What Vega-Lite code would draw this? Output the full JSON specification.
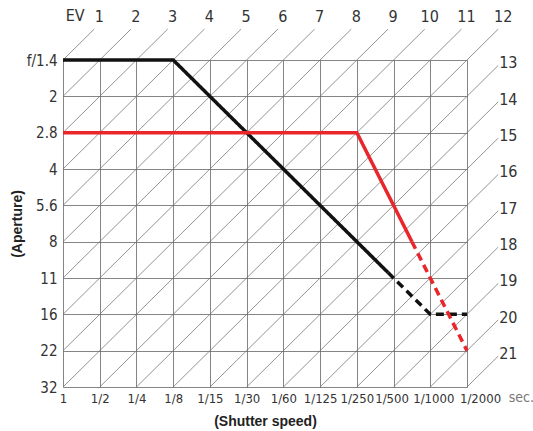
{
  "$schema": "https://vega.github.io/schema/vega-lite/v6.json",
  "width": 404,
  "height": 327,
  "autosize": {"type": "none"},
  "padding": {"left": 63, "top": 60, "right": 66, "bottom": 44},
  "background": "white",
  "config": {
    "view": {"stroke": null},
    "axis": {
      "grid": true,
      "gridColor": "#666666",
      "gridWidth": 0.8,
      "gridOpacity": 1,
      "ticks": false,
      "domain": false,
      "labelFont": "DejaVu Sans Condensed, Roboto, sans-serif",
      "labelFontSize": 15,
      "labelColor": "#333333",
      "labelOverlap": false,
      "labelFlush": false,
      "titleFont": "Liberation Sans, Arial, sans-serif",
      "titleFontWeight": "bold",
      "titleFontSize": 14,
      "titleColor": "#222222"
    },
    "axisX": {"labelFontSize": 13}
  },
  "datasets": {
    "diag": [
      {"x": 0, "y": 0, "x2": 0.85, "y2": -0.85, "k": "1", "side": "top"},
      {"x": 0, "y": 1, "x2": 1.85, "y2": -0.85, "k": "2", "side": "top"},
      {"x": 0, "y": 2, "x2": 2.85, "y2": -0.85, "k": "3", "side": "top"},
      {"x": 0, "y": 3, "x2": 3.85, "y2": -0.85, "k": "4", "side": "top"},
      {"x": 0, "y": 4, "x2": 4.85, "y2": -0.85, "k": "5", "side": "top"},
      {"x": 0, "y": 5, "x2": 5.85, "y2": -0.85, "k": "6", "side": "top"},
      {"x": 0, "y": 6, "x2": 6.85, "y2": -0.85, "k": "7", "side": "top"},
      {"x": 0, "y": 7, "x2": 7.85, "y2": -0.85, "k": "8", "side": "top"},
      {"x": 0, "y": 8, "x2": 8.85, "y2": -0.85, "k": "9", "side": "top"},
      {"x": 0, "y": 9, "x2": 9.85, "y2": -0.85, "k": "10", "side": "top"},
      {"x": 1, "y": 9, "x2": 10.85, "y2": -0.85, "k": "11", "side": "top"},
      {"x": 2, "y": 9, "x2": 11.85, "y2": -0.85, "k": "12", "side": "top"},
      {"x": 3, "y": 9, "x2": 11.85, "y2": 0.15, "k": "13", "side": "right"},
      {"x": 4, "y": 9, "x2": 11.85, "y2": 1.15, "k": "14", "side": "right"},
      {"x": 5, "y": 9, "x2": 11.85, "y2": 2.15, "k": "15", "side": "right"},
      {"x": 6, "y": 9, "x2": 11.85, "y2": 3.15, "k": "16", "side": "right"},
      {"x": 7, "y": 9, "x2": 11.85, "y2": 4.15, "k": "17", "side": "right"},
      {"x": 8, "y": 9, "x2": 11.85, "y2": 5.15, "k": "18", "side": "right"},
      {"x": 9, "y": 9, "x2": 11.85, "y2": 6.15, "k": "19", "side": "right"},
      {"x": 10, "y": 9, "x2": 11.85, "y2": 7.15, "k": "20", "side": "right"},
      {"x": 11, "y": 9, "x2": 11.85, "y2": 8.15, "k": "21", "side": "right"}
    ],
    "prog": [
      {"s": "black", "st": "solid", "i": 0, "x": 0, "y": 0},
      {"s": "black", "st": "solid", "i": 1, "x": 3, "y": 0},
      {"s": "black", "st": "solid", "i": 2, "x": 8.85, "y": 5.85},
      {"s": "black", "st": "dashed", "i": 3, "x": 8.85, "y": 5.85},
      {"s": "black", "st": "dashed", "i": 4, "x": 10, "y": 7},
      {"s": "black", "st": "dashed", "i": 5, "x": 11, "y": 7},
      {"s": "red", "st": "solid", "i": 0, "x": 0, "y": 2},
      {"s": "red", "st": "solid", "i": 1, "x": 8, "y": 2},
      {"s": "red", "st": "solid", "i": 2, "x": 9.5, "y": 5},
      {"s": "red", "st": "dashed", "i": 3, "x": 9.5, "y": 5},
      {"s": "red", "st": "dashed", "i": 4, "x": 11, "y": 8}
    ]
  },
  "encoding": {
    "x": {
      "field": "x", "type": "quantitative", "title": "(Shutter speed)",
      "scale": {"domain": [0, 11], "nice": false, "zero": false},
      "axis": {
        "values": [0, 1, 2, 3, 4, 5, 6, 7, 8, 9, 10, 11],
        "labelExpr": "['1','1/2','1/4','1/8','1/15','1/30','1/60','1/125','1/250','1/500','1/1000','1/2000'][datum.value]",
        "labelPadding": 5,
        "titlePadding": 9,
        "labelOffset": {"condition": [{"test": "datum.value == 11", "value": 13}, {"test": "datum.value == 10", "value": 3}, {"test": "datum.value == 9", "value": -2}], "value": 0}
      }
    },
    "y": {
      "field": "y", "type": "quantitative", "title": "(Aperture)",
      "scale": {"domain": [0, 9], "nice": false, "zero": false, "reverse": true},
      "axis": {
        "values": [0, 1, 2, 3, 4, 5, 6, 7, 8, 9],
        "labelExpr": "['f/1.4','2','2.8','4','5.6','8','11','16','22','32'][datum.value]",
        "labelPadding": 6,
        "titlePadding": 2
      }
    }
  },
  "layer": [
    {
      "data": {"name": "diag"},
      "mark": {"type": "rule", "color": "#777777", "strokeWidth": 0.8, "clip": false},
      "encoding": {
        "x2": {"field": "x2"},
        "y2": {"field": "y2"}
      }
    },
    {
      "data": {"name": "prog"},
      "mark": {"type": "line", "strokeWidth": 3.5, "clip": false, "strokeJoin": "miter"},
      "encoding": {
        "color": {"field": "s", "type": "nominal", "scale": {"domain": ["black", "red"], "range": ["#111111", "#e8262c"]}, "legend": null},
        "strokeDash": {"field": "st", "type": "nominal", "scale": {"domain": ["solid", "dashed"], "range": [[1, 0], [8, 5]]}, "legend": null},
        "order": {"field": "i", "type": "quantitative"}
      }
    },
    {
      "data": {"name": "diag"},
      "transform": [{"filter": "datum.side == 'top'"}],
      "mark": {"type": "text", "font": "DejaVu Sans Condensed, Roboto, sans-serif", "fontSize": 16, "color": "#333333", "align": "center", "baseline": "middle", "dx": 5, "dy": -12, "clip": false},
      "encoding": {
        "x": {
          "field": "x2", "type": "quantitative", "title": "(Shutter speed)",
          "scale": {"domain": [0, 11], "nice": false, "zero": false},
          "axis": {
            "values": [0, 1, 2, 3, 4, 5, 6, 7, 8, 9, 10, 11],
            "labelExpr": "['1','1/2','1/4','1/8','1/15','1/30','1/60','1/125','1/250','1/500','1/1000','1/2000'][datum.value]",
            "labelPadding": 5,
            "titlePadding": 9,
            "labelOffset": {"condition": [{"test": "datum.value == 11", "value": 13}, {"test": "datum.value == 10", "value": 3}, {"test": "datum.value == 9", "value": -2}], "value": 0}
          }
        },
        "y": {
          "field": "y2", "type": "quantitative", "title": "(Aperture)",
          "scale": {"domain": [0, 9], "nice": false, "zero": false, "reverse": true},
          "axis": {
            "values": [0, 1, 2, 3, 4, 5, 6, 7, 8, 9],
            "labelExpr": "['f/1.4','2','2.8','4','5.6','8','11','16','22','32'][datum.value]",
            "labelPadding": 6,
            "titlePadding": 2
          }
        },
        "text": {"field": "k"}
      }
    },
    {
      "data": {"name": "diag"},
      "transform": [{"filter": "datum.side == 'right'"}],
      "mark": {"type": "text", "font": "DejaVu Sans Condensed, Roboto, sans-serif", "fontSize": 16, "color": "#333333", "align": "left", "baseline": "middle", "dx": 1, "dy": -2, "clip": false},
      "encoding": {
        "x": {
          "field": "x2", "type": "quantitative", "title": "(Shutter speed)",
          "scale": {"domain": [0, 11], "nice": false, "zero": false},
          "axis": {
            "values": [0, 1, 2, 3, 4, 5, 6, 7, 8, 9, 10, 11],
            "labelExpr": "['1','1/2','1/4','1/8','1/15','1/30','1/60','1/125','1/250','1/500','1/1000','1/2000'][datum.value]",
            "labelPadding": 5,
            "titlePadding": 9,
            "labelOffset": {"condition": [{"test": "datum.value == 11", "value": 13}, {"test": "datum.value == 10", "value": 3}, {"test": "datum.value == 9", "value": -2}], "value": 0}
          }
        },
        "y": {
          "field": "y2", "type": "quantitative", "title": "(Aperture)",
          "scale": {"domain": [0, 9], "nice": false, "zero": false, "reverse": true},
          "axis": {
            "values": [0, 1, 2, 3, 4, 5, 6, 7, 8, 9],
            "labelExpr": "['f/1.4','2','2.8','4','5.6','8','11','16','22','32'][datum.value]",
            "labelPadding": 6,
            "titlePadding": 2
          }
        },
        "text": {"field": "k"}
      }
    },
    {
      "data": {"values": [{"t": "EV", "x": 0.33, "y": -1.2}]},
      "mark": {"type": "text", "font": "DejaVu Sans Condensed, Roboto, sans-serif", "fontSize": 16, "color": "#333333", "align": "center", "baseline": "middle", "clip": false},
      "encoding": {
        "text": {"field": "t"}
      }
    },
    {
      "data": {"values": [{"t": "sec.", "x": 12.48, "y": 9.29}]},
      "mark": {"type": "text", "font": "DejaVu Sans Condensed, Roboto, sans-serif", "fontSize": 14, "color": "#777777", "align": "center", "baseline": "middle", "clip": false},
      "encoding": {
        "text": {"field": "t"}
      }
    }
  ]
}
